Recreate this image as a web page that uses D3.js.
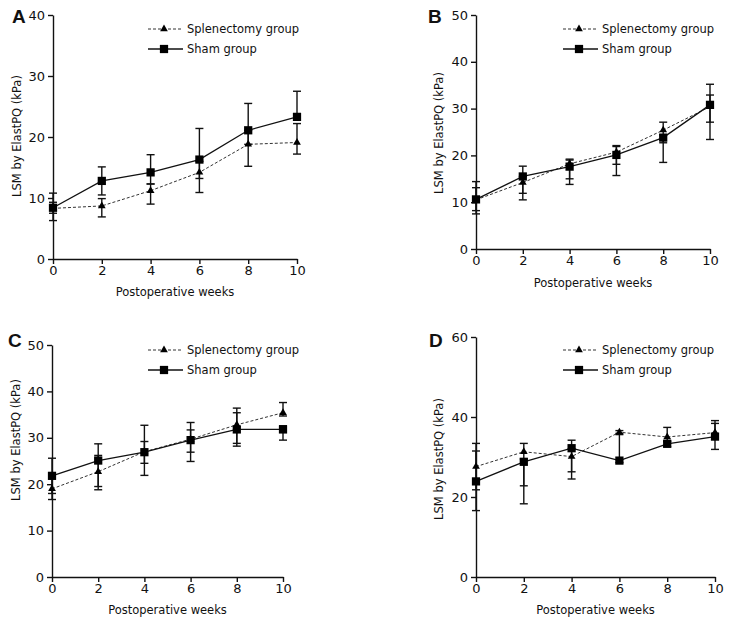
<!DOCTYPE html>
<html><head><meta charset="utf-8">
<script src="https://cdn.jsdelivr.net/npm/d3@7/dist/d3.min.js"></script>
<style>
body{margin:0;background:#fff}
svg{display:block}
text{font-family:"DejaVu Sans",Verdana,sans-serif;fill:#111}
</style>
</head><body>
<svg id="chart" width="732" height="625"></svg>
<script>
// ---------- data ----------
const weeks = [0, 2, 4, 6, 8, 10];
const xTickLabels = [0, 2, 4, 6, 8, 10];
const seriesNames = ["Splenectomy group", "Sham group"];
const panelLetters = ["A", "B", "C", "D"];
const xTitle = "Postoperative weeks";
const yTitle = "LSM by ElastPQ (kPa)";

const yTicksA = [0, 10, 20, 30, 40];
const yTicksB = [0, 10, 20, 30, 40, 50];
const yTicksC = [0, 10, 20, 30, 40, 50];
const yTicksD = [0, 20, 40, 60];

// Panel A
const splA    = [8.3, 8.7, 11.2, 14.2, 18.8, 19.1];
const splLoA  = [7.5, 6.9, 9.0, 10.9, 15.2, 17.2];
const splHiA  = [9.3, 9.9, 12.3, 16.0, 21.1, 22.2];
const shamA   = [8.4, 12.8, 14.2, 16.3, 21.1, 23.3];
const shamLoA = [6.3, 10.5, 12.3, 13.2, 18.8, 22.8];
const shamHiA = [10.8, 15.1, 17.1, 21.4, 25.5, 27.5];

// Panel B
const splB    = [10.5, 14.2, 18.2, 20.7, 25.4, 30.4];
const splLoB  = [8.2, 10.5, 13.8, 18.1, 22.7, 27.1];
const splHiB  = [13.1, 15.5, 19.0, 21.9, 27.1, 32.9];
const shamB   = [10.6, 15.5, 17.6, 20.1, 23.8, 30.8];
const shamLoB = [7.5, 11.9, 15.0, 15.7, 18.5, 23.4];
const shamHiB = [14.4, 17.7, 19.2, 22.1, 24.4, 35.2];

// Panel C
const splC    = [19.0, 22.7, 27.0, 29.7, 32.8, 35.4];
const splLoC  = [16.7, 18.8, 24.5, 26.9, 28.8, 34.7];
const splHiC  = [21.3, 26.2, 29.2, 31.7, 36.4, 37.6];
const shamC   = [21.8, 25.1, 26.9, 29.5, 31.8, 31.8];
const shamLoC = [18.0, 19.5, 21.9, 24.9, 28.2, 29.5];
const shamHiC = [25.6, 28.7, 32.7, 33.3, 35.4, 32.6];

// Panel D
const splD    = [27.6, 31.3, 30.1, 36.2, 35.0, 36.1];
const splLoD  = [21.8, 22.8, 24.5, 35.6, 33.8, 35.0];
const splHiD  = [33.4, 33.4, 32.0, 36.6, 37.4, 39.1];
const shamD   = [23.9, 28.8, 32.2, 29.1, 33.3, 35.1];
const shamLoD = [16.6, 18.3, 26.3, 28.6, 32.6, 31.9];
const shamHiD = [31.5, 29.5, 34.2, 35.9, 34.0, 38.4];

// ---------- layout ----------
const panels = [
  {letter: panelLetters[0], yTicks: yTicksA, spl: splA, splLo: splLoA, splHi: splHiA, sham: shamA, shamLo: shamLoA, shamHi: shamHiA,
   l: 53, r: 297, t: 15, b: 259, lx: 12, ly: 23, legX: 148, legY: 29, yTitleX: 17, yTitleY: 136, xTitleY: 296},
  {letter: panelLetters[1], yTicks: yTicksB, spl: splB, splLo: splLoB, splHi: splHiB, sham: shamB, shamLo: shamLoB, shamHi: shamHiB,
   l: 476, r: 710, t: 15, b: 249, lx: 428, ly: 23, legX: 563, legY: 29, yTitleX: 439, yTitleY: 133, xTitleY: 287},
  {letter: panelLetters[2], yTicks: yTicksC, spl: splC, splLo: splLoC, splHi: splHiC, sham: shamC, shamLo: shamLoC, shamHi: shamHiC,
   l: 52, r: 283, t: 345, b: 577, lx: 8, ly: 347, legX: 148, legY: 350, yTitleX: 16, yTitleY: 440, xTitleY: 614},
  {letter: panelLetters[3], yTicks: yTicksD, spl: splD, splLo: splLoD, splHi: splHiD, sham: shamD, shamLo: shamLoD, shamHi: shamHiD,
   l: 476, r: 715, t: 337, b: 577, lx: 429, ly: 347, legX: 563, legY: 350, yTitleX: 439, yTitleY: 459, xTitleY: 614}
];

const svg = d3.select("#chart");
const triangle = d3.symbol().type(d3.symbolTriangle).size(26);
const square = d3.symbol().type(d3.symbolSquare).size(68);

function drawPanel(p) {
  const g = svg.append("g");
  const yMax = d3.max(p.yTicks);
  const x = d3.scaleLinear().domain([0, 10]).range([p.l, p.r]);
  const y = d3.scaleLinear().domain([0, yMax]).range([p.b, p.t]);

  // axes
  const ya = g.append("g").attr("transform", `translate(${p.l},0)`)
    .call(d3.axisLeft(y).tickValues(p.yTicks).tickSize(5).tickSizeOuter(0).tickPadding(3));
  const xa = g.append("g").attr("transform", `translate(0,${p.b})`)
    .call(d3.axisBottom(x).tickValues(xTickLabels).tickSize(5).tickSizeOuter(0).tickPadding(2));
  [ya, xa].forEach(a => {
    a.select(".domain").attr("stroke", "#111").attr("stroke-width", 1.4);
    a.selectAll(".tick line").attr("stroke", "#111").attr("stroke-width", 1.4);
    a.selectAll(".tick text").attr("font-size", 13).attr("fill", "#111")
      .style("font-family", '"DejaVu Sans",Verdana,sans-serif');
  });

  // titles
  g.append("text").attr("x", p.lx).attr("y", p.ly).attr("font-size", 19).attr("font-weight", "bold")
    .style("font-family", '"Liberation Sans",Arial,sans-serif').text(p.letter);
  g.append("text").attr("x", (p.l + p.r) / 2).attr("y", p.xTitleY).attr("text-anchor", "middle")
    .attr("font-size", 11.5).text(xTitle);
  g.append("text").attr("transform", `translate(${p.yTitleX},${p.yTitleY}) rotate(-90)`)
    .attr("text-anchor", "middle").attr("dy", "0.35em").attr("font-size", 11.5).text(yTitle);

  const series = [
    {vals: p.spl, lo: p.splLo, hi: p.splHi, dash: "3,2", color: "#333", width: 1, sym: triangle},
    {vals: p.sham, lo: p.shamLo, hi: p.shamHi, dash: null, color: "#111", width: 1.3, sym: square}
  ];

  // error bars
  series.forEach(s => {
    weeks.forEach((w, i) => {
      const cx = x(w);
      g.append("line").attr("x1", cx).attr("x2", cx).attr("y1", y(s.lo[i])).attr("y2", y(s.hi[i]))
        .attr("stroke", "#111").attr("stroke-width", 1.4);
      [s.lo[i], s.hi[i]].forEach(v => {
        g.append("line").attr("x1", cx - 4).attr("x2", cx + 4).attr("y1", y(v)).attr("y2", y(v))
          .attr("stroke", "#111").attr("stroke-width", 1.4);
      });
    });
  });

  // lines + markers
  const line = d3.line().x((d, i) => x(weeks[i])).y(d => y(d));
  series.forEach(s => {
    g.append("path").datum(s.vals).attr("d", line).attr("fill", "none")
      .attr("stroke", s.color).attr("stroke-width", s.width).attr("stroke-dasharray", s.dash);
  });
  series.forEach(s => {
    g.selectAll(null).data(s.vals).enter().append("path")
      .attr("d", s.sym).attr("transform", (d, i) => `translate(${x(weeks[i])},${y(d)})`)
      .attr("fill", "#000");
  });

  // legend
  series.forEach((s, k) => {
    const ly = p.legY + k * 20;
    g.append("line").attr("x1", p.legX).attr("x2", p.legX + 35).attr("y1", ly).attr("y2", ly)
      .attr("stroke", s.color).attr("stroke-width", s.width).attr("stroke-dasharray", s.dash);
    g.append("path").attr("d", s.sym).attr("transform", `translate(${p.legX + 16},${ly})`).attr("fill", "#000");
    g.append("text").attr("x", p.legX + 39).attr("y", ly).attr("dy", "0.35em").attr("font-size", 11.5)
      .text(seriesNames[k]);
  });
}

panels.forEach(drawPanel);
</script>
</body></html>
